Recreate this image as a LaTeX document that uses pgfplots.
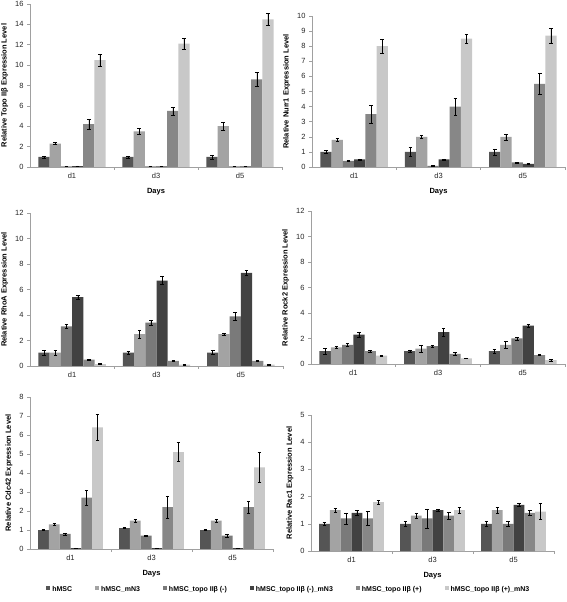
\documentclass[border=0pt]{standalone}
\usepackage{pgfplots}
\usepackage{pgfplotstable}
\pgfplotsset{compat=1.18}
\usepackage{fontspec}
\setmainfont{Liberation Sans}
\definecolor{cA}{HTML}{555555}
\definecolor{cB}{HTML}{A3A3A3}
\definecolor{cC}{HTML}{7A7A7A}
\definecolor{cD}{HTML}{424242}
\definecolor{cE}{HTML}{878787}
\definecolor{cF}{HTML}{C8C8C8}
\definecolor{axgray}{HTML}{A0A0A0}

\pgfplotstableread{
x a ea b eb c ec d ed e ee f ef
0 1.0 0.1 2.3 0.1 0.05 0.02 0.08 0.02 4.2 0.5 10.5 0.6
1 1.0 0.1 3.5 0.3 0.05 0.02 0.05 0.02 5.5 0.4 12.1 0.5
2 1.0 0.2 4.0 0.4 0.05 0.02 0.05 0.02 8.6 0.7 14.5 0.6
}\topo
\pgfplotstableread{
x a ea b eb c ec d ed e ee f ef
0 1.0 0.1 1.8 0.1 0.4 0.03 0.5 0.03 3.5 0.6 8.0 0.45
1 1.0 0.3 2.0 0.1 0.08 0.02 0.5 0.03 4.0 0.55 8.5 0.3
2 1.0 0.2 2.0 0.2 0.3 0.02 0.2 0.05 5.5 0.7 8.7 0.5
}\nurr
\pgfplotstableread{
x a ea b eb c ec d ed e ee f ef
0 1.05 0.2 1.05 0.2 3.1 0.15 5.4 0.15 0.5 0.03 0.15 0.03
1 1.05 0.1 2.5 0.3 3.4 0.2 6.7 0.3 0.4 0.05 0.1 0.02
2 1.05 0.15 2.5 0.1 3.9 0.3 7.3 0.2 0.4 0.05 0.1 0.02
}\rhoa
\pgfplotstableread{
x a ea b eb c ec d ed e ee f ef
0 1.0 0.2 1.3 0.1 1.5 0.1 2.3 0.2 1.0 0.05 0.65 0.03
1 1.0 0.1 1.2 0.3 1.4 0.05 2.5 0.3 0.8 0.1 0.45 0.03
2 1.0 0.15 1.5 0.3 2.0 0.1 3.0 0.1 0.7 0.05 0.3 0.08
}\rock
\pgfplotstableread{
x a ea b eb c ec d ed e ee f ef
0 1.0 0.02 1.3 0.03 0.8 0.05 0.05 0.01 2.7 0.4 6.4 0.7
1 1.1 0.03 1.5 0.07 0.7 0.02 0.05 0.01 2.2 0.6 5.1 0.5
2 1.0 0.02 1.5 0.07 0.7 0.1 0.05 0.01 2.2 0.3 4.3 0.8
}\cdc
\pgfplotstableread{
x a ea b eb c ec d ed e ee f ef
0 1.0 0.05 1.5 0.07 1.2 0.2 1.4 0.1 1.2 0.25 1.8 0.07
1 1.0 0.08 1.3 0.08 1.2 0.35 1.5 0.03 1.3 0.12 1.5 0.1
2 1.0 0.08 1.5 0.1 1.0 0.1 1.7 0.07 1.4 0.08 1.45 0.3
}\rac

\pgfplotsset{
  sqleg/.style={legend image code/.code={\fill[##1] (0pt,-0.3pt) rectangle (4pt,3.7pt);}},
  eb/.style={sqleg, draw=none, error bars/.cd, y dir=both, y explicit,
     error bar style={black, line width=0.5pt},
     error mark options={rotate=90, mark size=1.8pt, black, line width=0.5pt}},
  panel/.style={
    scale only axis, anchor=south west,
    ybar=0pt, bar width=0.1333,
    xmin=-0.5, xmax=2.5, ymin=0,
    xtick={0,1,2}, xticklabels={d1,d3,d5},
    minor xtick={0.5,1.5,2.5},
    major x tick style={draw=none},
    tick align=outside, tick pos=left,
    axis x line*=bottom, axis y line*=left,
    axis line style={axgray, line width=0.5pt},
    every tick/.style={axgray, line width=0.5pt},
    major tick length=3pt, minor tick length=3pt,
    ticklabel style={font=\fontsize{7.5}{8}\selectfont, text=black!85},
    /pgf/number format/assume math mode=true,
    label style={font=\bfseries\fontsize{7.5}{8}\selectfont},
    xlabel style={yshift=-2pt},
  },
}

\newcommand{\sixbars}[1]{%
  \addplot[fill=cA, eb] table[x=x, y=a, y error=ea]{#1};
  \addplot[fill=cB, eb] table[x=x, y=b, y error=eb]{#1};
  \addplot[fill=cC, eb] table[x=x, y=c, y error=ec]{#1};
  \addplot[fill=cD, eb] table[x=x, y=d, y error=ed]{#1};
  \addplot[fill=cE, eb] table[x=x, y=e, y error=ee]{#1};
  \addplot[fill=cF, eb] table[x=x, y=f, y error=ef]{#1};
}

\begin{document}
\begin{tikzpicture}
\path[use as bounding box] (0pt,0pt) rectangle (567pt,602pt);

\begin{axis}[panel, at={(30pt,435pt)}, width=252pt, height=163pt,
  ymax=16, ytick={0,2,...,16},
  ylabel={Relative Topo IIβ Expression Level}, xlabel={Days}]
\sixbars{\topo}
\end{axis}

\begin{axis}[panel, at={(312pt,435pt)}, width=253pt, height=151pt,
  ymax=10, ytick={0,1,...,10},
  ylabel={Relative Nurr1 Expression Level}, xlabel={Days}]
\sixbars{\nurr}
\end{axis}

\begin{axis}[panel, at={(30pt,236pt)}, width=253pt, height=153pt,
  ymax=12, ytick={0,2,...,12},
  ylabel={Relative RhoA Expression Level}]
\sixbars{\rhoa}
\end{axis}

\begin{axis}[panel, at={(311pt,238pt)}, width=254pt, height=153pt,
  ymax=12, ytick={0,2,...,12},
  ylabel={Relative Rock2 Expression Level}]
\sixbars{\rock}
\end{axis}

\begin{axis}[panel, at={(30pt,53pt)}, width=243pt, height=152pt,
  ymax=8, ytick={0,1,...,8},
  ylabel={Relative Cdc42 Expression Level}, xlabel={Days},
  legend columns=6,
  legend style={at={(axis description cs:1.065,-0.265)}, anchor=center,
    draw=none, fill=none, font=\bfseries\fontsize{7}{8}\selectfont,
    /tikz/every even column/.append style={column sep=21pt},
    legend cell align=left}]
\sixbars{\cdc}
\legend{hMSC, hMSC\_mN3, hMSC\_topo IIβ (-), hMSC\_topo IIβ (-)\_mN3, hMSC\_topo IIβ (+), hMSC\_topo IIβ (+)\_mN3}
\end{axis}

\begin{axis}[panel, at={(311pt,51pt)}, width=243pt, height=136pt,
  ymax=5, ytick={0,1,...,5},
  ylabel={Relative Rac1 Expression Level}, xlabel={Days}]
\sixbars{\rac}
\end{axis}

\end{tikzpicture}
\end{document}
